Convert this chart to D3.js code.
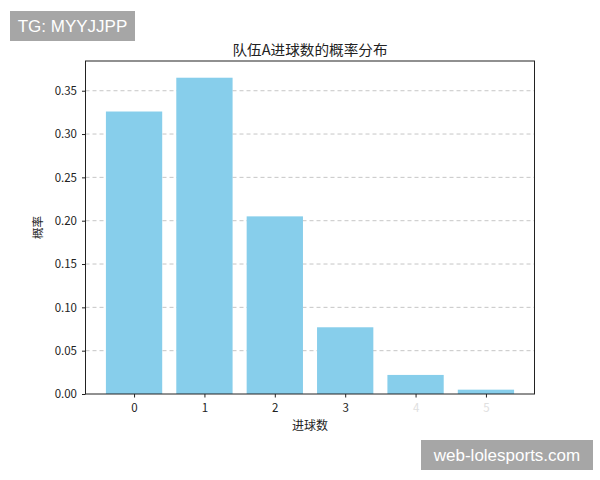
<!DOCTYPE html>
<html><head><meta charset="utf-8">
<script src="https://cdn.jsdelivr.net/npm/d3@7"></script>
<style>
body{margin:0;background:#fff;}
svg{display:block;font-family:"Noto Sans CJK SC","DejaVu Sans",sans-serif;}
</style></head>
<body><svg id="c" width="600" height="480"></svg>
<script>
const categories = ["0","1","2","3","4","5"];
const values = [0.326, 0.365, 0.205, 0.077, 0.022, 0.005];
const yTicks = [0, 0.05, 0.10, 0.15, 0.20, 0.25, 0.30, 0.35];
const title = "队伍A进球数的概率分布";
const xLabel = "进球数";
const yLabel = "概率";
const watermarks = ["TG: MYYJJPP", "web-lolesports.com"];

const svg = d3.select("#c");
const L = 85.5, R = 534.5, T = 61, B = 394;
const x = d3.scaleLinear().domain([-0.69, 5.69]).range([L, R]);
const y = d3.scaleLinear().domain([0, 0.3843]).range([B, T]);
const bw = 0.8;
const font = '"Noto Sans CJK SC","DejaVu Sans",sans-serif';

// grid
svg.append("g").selectAll("line").data(yTicks.filter(d=>d>0)).join("line")
  .attr("x1", L).attr("x2", R).attr("y1", d=>y(d)).attr("y2", d=>y(d))
  .attr("stroke", "#b8b8b8").attr("stroke-width", 0.8).attr("stroke-dasharray", "4,3");

// bars
svg.append("g").selectAll("rect").data(values).join("rect")
  .attr("x", (d,i)=>x(i-bw/2)).attr("width", (d,i)=>x(i+bw/2)-x(i-bw/2))
  .attr("y", d=>y(d)).attr("height", d=>B-y(d))
  .attr("fill", "#87CEEB");

// frame
svg.append("rect").attr("x", L).attr("y", T).attr("width", R-L).attr("height", B-T)
  .attr("fill", "none").attr("stroke", "#222").attr("stroke-width", 1);

// y axis
const ya = svg.append("g").attr("transform", `translate(${L},0)`)
  .call(d3.axisLeft(y).tickValues(yTicks).tickFormat(d3.format(".2f")).tickSize(3.5).tickPadding(5));
ya.select(".domain").remove();
ya.selectAll("text").attr("font-size", 11.5).attr("fill", "#222").attr("font-family", font);
ya.selectAll("line").attr("stroke", "#222");

// x axis
const xa = svg.append("g").attr("transform", `translate(0,${B})`)
  .call(d3.axisBottom(x).tickValues(d3.range(categories.length)).tickFormat(i=>categories[i]).tickSize(3.5).tickPadding(6));
xa.select(".domain").remove();
xa.selectAll("text").attr("font-size", 11.5)
  .attr("fill", (d,i)=> i>=4 ? "#e0e0e0" : "#222").attr("font-family", font);
xa.selectAll("line").attr("stroke", "#222");

// title & labels
svg.append("text").attr("x", (L+R)/2).attr("y", 55).attr("text-anchor", "middle")
  .attr("font-size", 14).attr("fill", "#222")
  .attr("textLength", 155).attr("lengthAdjust", "spacingAndGlyphs").text(title);
svg.append("text").attr("x", (L+R)/2).attr("y", 430).attr("text-anchor", "middle")
  .attr("font-size", 12).attr("fill", "#222").text(xLabel);
svg.append("text").attr("transform", `translate(42,${(T+B)/2}) rotate(-90)`).attr("text-anchor", "middle")
  .attr("font-size", 11.5).attr("fill", "#222").text(yLabel);

// watermarks
const wm = [{x:10,y:11,w:125,h:30,t:watermarks[0]},{x:421,y:440,w:172,h:30,t:watermarks[1]}];
const g = svg.append("g").selectAll("g").data(wm).join("g");
g.append("rect").attr("x",d=>d.x).attr("y",d=>d.y).attr("width",d=>d.w).attr("height",d=>d.h).attr("fill","#a6a6a6");
g.append("text").attr("x",d=>d.x+d.w/2).attr("y",d=>d.y+d.h/2+6).attr("text-anchor","middle")
  .attr("font-family","'Liberation Sans',Arial,sans-serif").attr("font-size",17).attr("fill","#fff").text(d=>d.t);
</script></body></html>
